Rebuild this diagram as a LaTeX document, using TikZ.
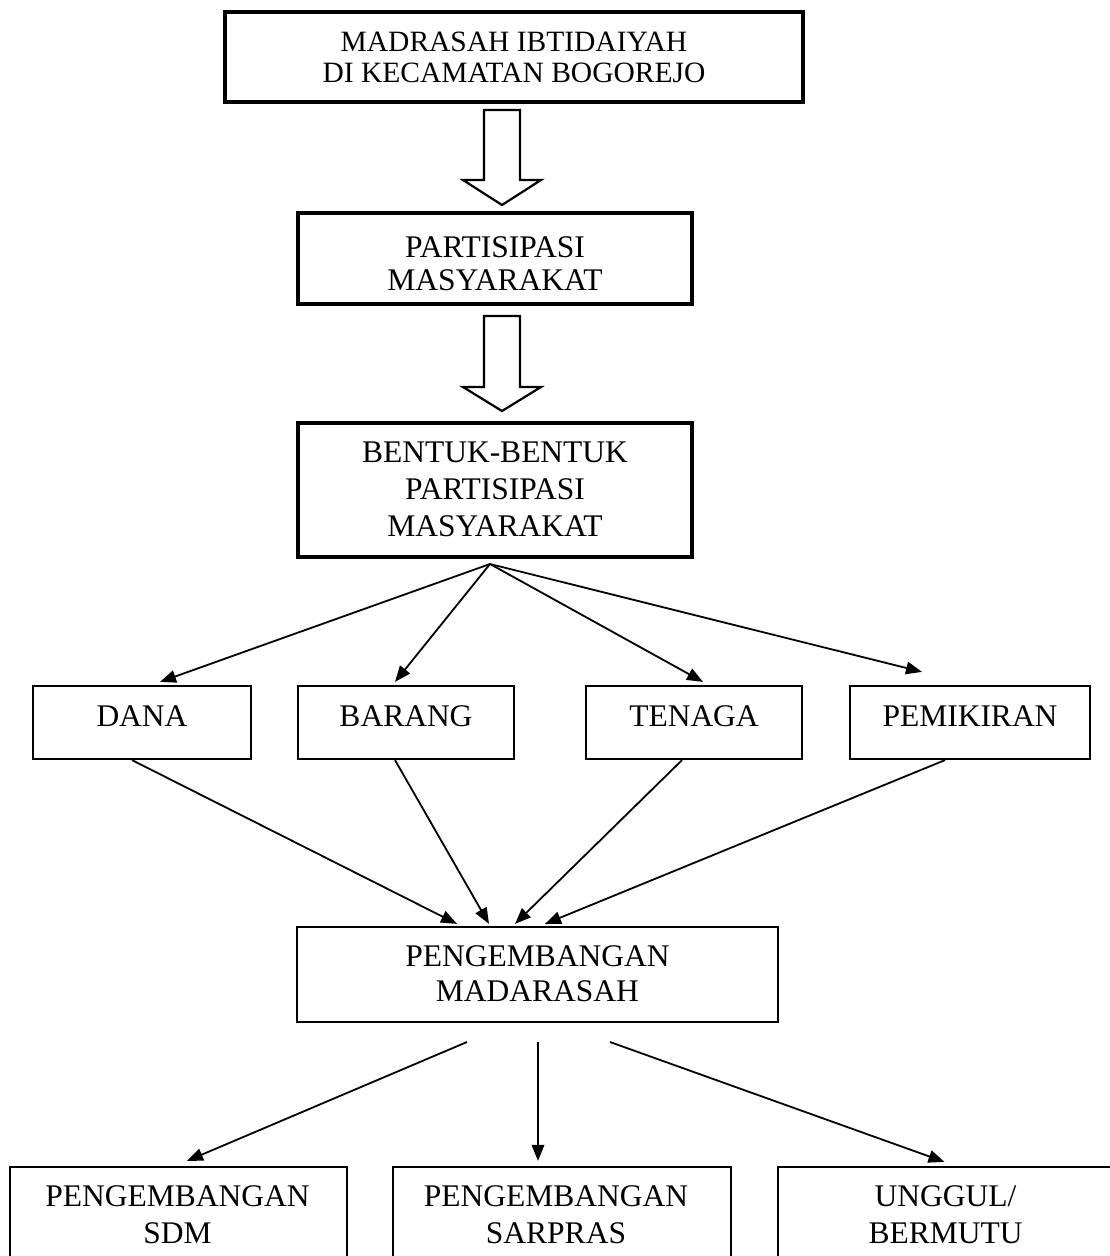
\documentclass[tikz,border=0pt]{standalone}
\usepackage{fontspec}
\setmainfont{Liberation Serif}
\usetikzlibrary{arrows.meta,calc}
\begin{document}
\begin{tikzpicture}[x=1pt,y=-1pt,
  thickbox/.style={draw, line width=3.6pt, inner sep=0pt, rectangle},
  thinbox/.style={draw, line width=2.2pt, inner sep=0pt, rectangle},
  txt/.style={inner sep=0pt, align=center, font=\fontsize{31.5}{37}\selectfont},
  conn/.style={line width=1.8pt, -{Triangle[length=16pt,width=12.5pt]}},
  hollow/.style={draw, line width=2.2pt, line join=miter, fill=white}]
\useasboundingbox (0,0) rectangle (1110,1256);
\begin{scope}
\clip (0,0) rectangle (1110,1256);
% boxes
\node[thickbox, minimum width=578pt, minimum height=90pt] (mi) at (514,57) {};
\node[thickbox, minimum width=394pt, minimum height=91pt] (pm) at (495,258.5) {};
\node[thickbox, minimum width=394pt, minimum height=134pt] (bp) at (495,490) {};
\node[thinbox, minimum width=218pt, minimum height=73pt] (dana) at (142,722.5) {};
\node[thinbox, minimum width=216pt, minimum height=73pt] (barang) at (406,722.5) {};
\node[thinbox, minimum width=216pt, minimum height=73pt] (tenaga) at (694,722.5) {};
\node[thinbox, minimum width=240pt, minimum height=73pt] (pemikiran) at (970,722.5) {};
\node[thinbox, minimum width=481pt, minimum height=95pt] (pmad) at (537.5,974.5) {};
\node[thinbox, minimum width=337pt, minimum height=123pt] (sdm) at (178.5,1228.5) {};
\node[thinbox, minimum width=338pt, minimum height=123pt] (sarpras) at (562,1228.5) {};
\node[thinbox, minimum width=335pt, minimum height=123pt] (unggul) at (945.5,1228.5) {};
% texts
\node[txt, font=\fontsize{29.5}{31.6}\selectfont] (tmi) at (514,57.3) {MADRASAH IBTIDAIYAH\\DI KECAMATAN BOGOREJO};
\node[txt, font=\fontsize{31.5}{33}\selectfont] (tpm) at (495,264) {PARTISIPASI\\MASYARAKAT};
\node[txt] (tbp) at (495,489.5) {BENTUK-BENTUK\\PARTISIPASI\\MASYARAKAT};
\node[txt] (tdana) at (142,716.5) {DANA};
\node[txt] (tbarang) at (406,716.5) {BARANG};
\node[txt] (ttenaga) at (694,716.5) {TENAGA};
\node[txt] (tpemikiran) at (970,716.5) {PEMIKIRAN};
\node[txt, font=\fontsize{31.5}{35}\selectfont] (tpmad) at (537.5,974) {PENGEMBANGAN\\MADARASAH};
\node[txt] (tsdm) at (177.5,1215) {PENGEMBANGAN\\SDM};
\node[txt] (tsarpras) at (556,1215) {PENGEMBANGAN\\SARPRAS};
\node[txt] (tunggul) at (945.5,1215) {UNGGUL/\\BERMUTU};
% hollow arrows
\coordinate (a1s) at (502,110);
\coordinate (a1e) at (502,205);
\coordinate (a2s) at (502,316);
\coordinate (a2e) at (502,411);
\draw[hollow] ($(a1s)+(-18,0)$) -- ++(0,70) -- ++(-21,0) -- (a1e) -- ++(39,-25) -- ++(-21,0) -- ++(0,-70) -- cycle;
\draw[hollow] ($(a2s)+(-18,0)$) -- ++(0,71) -- ++(-21,0) -- (a2e) -- ++(39,-24) -- ++(-21,0) -- ++(0,-71) -- cycle;
% fan
\coordinate (fan) at (490,564);
\draw[conn] (fan) -- ($(dana.north)+(18,-3)$);
\draw[conn] (fan) -- ($(barang.north)+(-11,-3)$);
\draw[conn] (fan) -- ($(tenaga.north)+(9,-3)$);
\draw[conn] (fan) -- ($(pemikiran.north)+(-48,-13)$);
% row to pengembangan
\draw[conn] ($(dana.south)+(-10,0)$) -- ($(pmad.north)+(-80.5,-2)$);
\draw[conn] ($(barang.south)+(-11,0)$) -- ($(pmad.north)+(-48.5,-2)$);
\draw[conn] ($(tenaga.south)+(-12,0)$) -- ($(pmad.north)+(-22.5,-2)$);
\draw[conn] ($(pemikiran.south)+(-25,0)$) -- ($(pmad.north)+(7.5,-2)$);
% bottom
\coordinate (b1) at (467,1042);
\coordinate (b2) at (538,1042);
\coordinate (b3) at (610,1042);
\draw[conn] (b1) -- ($(sdm.north)+(8.5,-5)$);
\draw[conn] (b2) -- ($(sarpras.north)+(-24,-5)$);
\draw[conn] (b3) -- ($(unggul.north)+(-1,-4)$);
\end{scope}
\end{tikzpicture}
\end{document}
